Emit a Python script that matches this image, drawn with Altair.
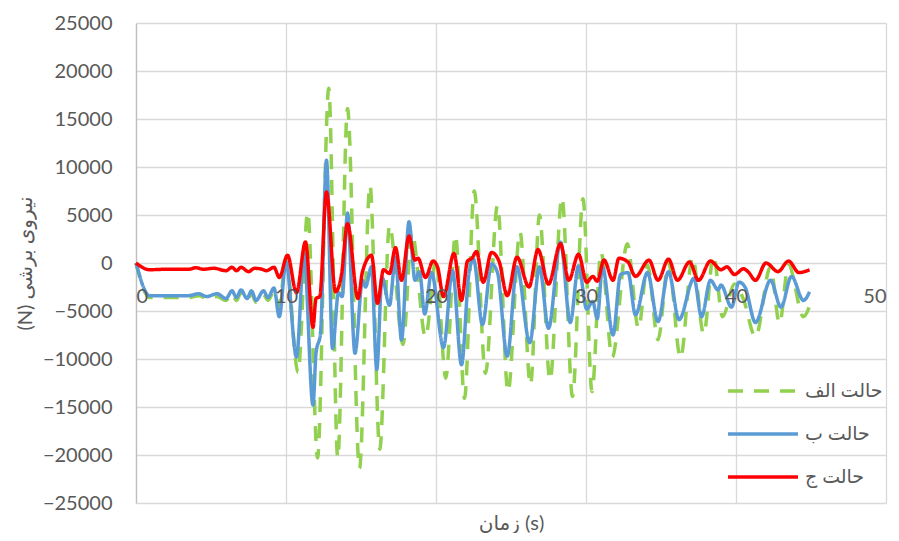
import altair as alt
import pandas as pd

series = ["حالت الف", "حالت ب", "حالت ج"]
colors = ["#92d050", "#5b9bd5", "#ff0000"]

# حالت الف (green dashed)
t_a = [0, 0.9, 2, 3.5, 4.2, 4.7, 5.4, 6.0, 6.4, 6.7, 7.0, 7.4, 7.7, 8.0, 8.5, 8.8, 9.2, 9.55,
       10.0, 10.8, 11.45, 12.1, 12.85, 13.45, 14.1, 14.9, 15.6, 16.25, 16.9, 17.8, 18.4, 19.3,
       20.0, 20.65, 21.3, 21.9, 22.55, 23.3, 24.1, 24.8, 25.6, 26.3, 26.9, 27.6, 28.4, 29.1,
       29.8, 30.4, 31.0, 31.75, 32.75, 33.5, 34.1, 34.8, 35.5, 36.3, 37.1, 37.85, 38.5, 39.1,
       39.9, 40.5, 41.3, 42.3, 42.9, 43.5, 44.5, 44.9]
v_a = [0, -3600, -3600, -3600, -3400, -3700, -3500, -3900, -3200, -3900, -3100, -3900, -3200, -4100, -3300, -3900, -3000, -4500,
       500, -11400, 5300, -20300, 18200, -20300, 16100, -21400, 8100, -19400, 3900, -8500, 3200, -7700,
       300, -12000, 2900, -14100, 7500, -11500, 6000, -13400, 3200, -12700, 5000, -12200, 6800, -13900,
       6700, -13400, 1100, -9800, 2000, -6800, -200, -8000, 0, -9900, 600, -7400, 800, -5600,
       -2200, -3800, -7700, -400, -6300, -200, -5600, -4500]

# حالت ب (blue)
t_b = [0, 0.9, 2, 3.5, 4.2, 4.7, 5.4, 6.0, 6.4, 6.7, 7.0, 7.4, 7.7, 8.0, 8.5, 8.8, 9.2, 9.55,
       10.0, 10.7, 11.2, 11.8, 12.0, 12.3, 12.7, 13.1, 13.5, 13.75, 14.1, 14.6, 15.1, 15.3, 15.7,
       16.05, 16.4, 16.9, 17.3, 17.7, 18.2, 18.6, 18.9, 19.25, 19.7, 20.5, 21.1, 21.7, 22.2, 22.5,
       23.1, 23.7, 24.1, 24.75, 25.4, 26.25, 26.9, 27.5, 28.3, 28.95, 29.5, 30.05, 30.45, 30.75,
       31.1, 31.8, 32.3, 32.8, 33.3, 34.1, 34.8, 35.5, 36.2, 37.2, 37.7, 38.3, 38.8, 39.0, 39.7,
       40.2, 40.6, 41.3, 42.3, 43.0, 43.7, 44.5, 44.9]
v_b = [0, -3400, -3400, -3400, -3200, -3500, -3200, -3700, -2900, -3600, -2800, -3700, -2900, -3900, -2900, -3600, -2600, -5600,
       100, -9800, 1000, -14800, -9400, -7300, 10700, -8900, -3100, -3500, 5200, -9400, -1800, -2500, -400,
       -11100, -1500, -4400, 600, -8000, 4300, -1800, -900, -5300, -1000, -8800, -800, -10600, -1000, 400,
       -6400, -100, -1000, -9700, -400, -8300, -400, -6800, 2200, -6200, -300, -4800, -4000, -5800,
       -400, -7500, -1200, -1000, -5400, -1000, -6100, -900, -5900, -1600, -5600, -1800, -2800, -2300, -4600,
       -2000, -2500, -6200, -1800, -4600, -1400, -3900, -3000]

# حالت ج (red)
t_c = [0, 0.9, 2, 3.5, 4.0, 4.5, 5.2, 6.0, 6.4, 6.7, 7.0, 7.5, 7.9, 8.4, 8.7, 9.2, 9.55,
       10.1, 10.7, 11.3, 11.8, 12.0, 12.25, 12.7, 13.3, 13.7, 14.1, 14.8, 15.1, 15.7, 16.1, 16.5,
       16.9, 17.3, 17.7, 18.2, 18.6, 18.8, 19.3, 19.8, 20.1, 20.5, 21.2, 21.7, 22.1, 22.4, 22.7,
       23.15, 23.7, 24.2, 24.75, 25.4, 26.2, 26.8, 27.5, 28.3, 28.85, 29.5, 30.05, 30.45, 30.75,
       31.2, 31.8, 32.2, 32.8, 33.3, 34.2, 34.8, 35.5, 36.1, 36.9, 37.5, 38.3, 39.0, 39.4, 39.9,
       40.5, 40.8, 41.3, 42.0, 42.8, 43.5, 44.2, 44.9]
v_c = [0, -700, -650, -650, -500, -650, -550, -800, -450, -800, -450, -900, -550, -650, -800, -450, -1500,
       800, -3100, 2200, -6700, -3700, -3500, 7400, -3000, -1200, 4100, -3700, -900, 800, -4200, -700,
       -1100, 1600, -1800, 2800, 300, 500, -1500, 200, -400, -3500, 1000, -3900, 200, 500, 1200,
       -2000, 1100, 200, -3400, 600, -2500, 1400, -2200, 2000, -1800, 900, -2000, -1400, -1900,
       300, -1800, 500, 100, -1400, 300, -1800, 400, -1800, 100, -1800, 200, -700, -400, -1200,
       -600, -900, -1800, 0, -900, 200, -1000, -700]

x_ticks = [0, 10, 20, 30, 40, 50]
y_ticks = list(range(-25000, 25001, 5000))

frames = []
for name, tt, vv in zip(series, [t_a, t_b, t_c], [v_a, v_b, v_c]):
    frames.append(pd.DataFrame({"t": tt, "v": vv, "s": name}))
df = pd.concat(frames, ignore_index=True)

FONT = "Lato, DejaVu Sans, sans-serif"
GRAY = "#595959"

y_axis = alt.Axis(values=y_ticks, format="d", grid=True, gridColor="#d9d9d9", gridWidth=1.3,
                  domain=True, domainColor="#bfbfbf", domainWidth=1.3, ticks=False, tickSize=0,
                  labelPadding=24, labelFontSize=20, labelColor=GRAY, labelFont=FONT,
                  title="(N) نیروی برشی", titleFont=FONT, titleFontSize=20, titleColor=GRAY,
                  titleFontWeight="normal", titleX=-111, titleY=240, titleAngle=270,
                  titleAlign="center", titleBaseline="middle")

grid_x_axis = alt.Axis(values=x_ticks, orient="bottom", grid=True, gridColor="#d9d9d9", gridWidth=1.3,
                       domain=False, ticks=False, labels=False,
                       title="زمان (s)", titleFont=FONT, titleFontSize=20, titleColor=GRAY,
                       titleFontWeight="normal", titleX=375, titleY=20,
                       titleAlign="center", titleBaseline="middle")

label_x_axis = alt.Axis(values=x_ticks, orient="bottom", grid=False, domain=False,
                        ticks=False, tickSize=0, offset=-240, zindex=1,
                        labelPadding=23, labelFontSize=20, labelColor=GRAY, labelFont=FONT,
                        title="")

xscale = alt.Scale(domain=[0, 50], nice=False)
yscale = alt.Scale(domain=[-25000, 25000], nice=False)

leg = alt.Legend(title=None, orient="none", legendX=632, legendY=352, direction="vertical",
                 symbolType="M-4,0H1", symbolSize=784, symbolStrokeWidth=3.5,
                 labelFontSize=19, labelColor=GRAY, labelFont=FONT, labelOffset=5,
                 rowPadding=17, padding=0)

color = alt.Color("s:N", scale=alt.Scale(domain=series, range=colors), legend=leg)
dash = alt.StrokeDash("s:N", scale=alt.Scale(domain=series, range=[[15, 11], [1, 0], [1, 0]]), legend=leg)


def layer(name, xaxis):
    return alt.Chart(df).transform_filter(alt.datum.s == name).mark_line(
        strokeWidth=3.5, interpolate="monotone"
    ).encode(
        x=alt.X("t:Q", scale=xscale, axis=xaxis),
        y=alt.Y("v:Q", scale=yscale, axis=y_axis),
        color=color,
        strokeDash=dash,
    )


chart = alt.layer(
    layer(series[0], grid_x_axis),
    layer(series[1], label_x_axis),
    layer(series[2], None),
).resolve_axis(x="independent").properties(
    width=750, height=480,
    autosize=alt.AutoSizeParams(type="none"),
    padding={"left": 128, "top": 15, "right": 5, "bottom": 30},
).configure_view(stroke="transparent")

chart.save("out.html", embed_options={"renderer": "svg", "actions": False})
